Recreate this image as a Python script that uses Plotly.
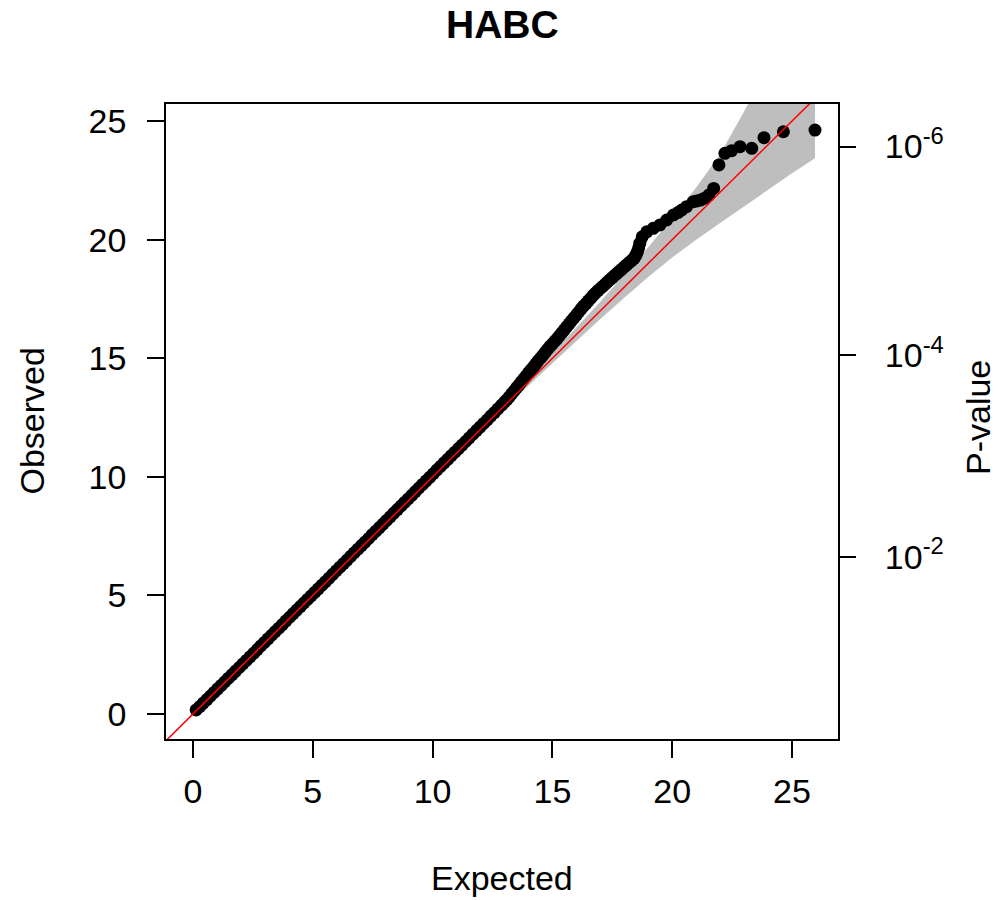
import plotly.graph_objects as go

# ---------------- data ----------------
# Expected vs observed chi-square statistics (QQ plot)
expected_low = [0.13, 0.28, 0.43, 0.58, 0.73, 0.88, 1.03, 1.18, 1.33, 1.48,
                1.63, 1.78, 1.93, 2.08, 2.23, 2.38, 2.53, 2.68, 2.83, 2.98,
                3.13, 3.28, 3.43, 3.58, 3.73, 3.88, 4.03, 4.18, 4.33, 4.48,
                4.63, 4.78, 4.93, 5.08, 5.23, 5.38, 5.53, 5.68, 5.83, 5.98,
                6.13, 6.28, 6.43, 6.58, 6.73, 6.88, 7.03, 7.18, 7.33, 7.48,
                7.63, 7.78, 7.93, 8.08, 8.23, 8.38, 8.53, 8.68, 8.83, 8.98,
                9.13, 9.28, 9.43, 9.58, 9.73, 9.88, 10.03, 10.18, 10.33, 10.48,
                10.63, 10.78, 10.93, 11.08, 11.23, 11.38, 11.53, 11.68, 11.83, 11.98,
                12.13, 12.28, 12.43, 12.58, 12.73, 12.88, 13.0]
observed_low = [0.17, 0.31, 0.46, 0.61, 0.76, 0.91, 1.06, 1.21, 1.36, 1.51,
                1.66, 1.81, 1.96, 2.11, 2.26, 2.41, 2.56, 2.71, 2.87, 3.02,
                3.17, 3.32, 3.47, 3.62, 3.77, 3.93, 4.08, 4.23, 4.38, 4.53,
                4.68, 4.83, 4.98, 5.13, 5.28, 5.43, 5.58, 5.73, 5.89, 6.04,
                6.19, 6.34, 6.49, 6.65, 6.8, 6.95, 7.1, 7.25, 7.4, 7.56,
                7.71, 7.86, 8.01, 8.16, 8.31, 8.47, 8.62, 8.77, 8.92, 9.07,
                9.22, 9.38, 9.53, 9.68, 9.83, 9.98, 10.13, 10.29, 10.44, 10.59,
                10.74, 10.89, 11.04, 11.19, 11.34, 11.49, 11.64, 11.8, 11.95, 12.1,
                12.25, 12.4, 12.56, 12.71, 12.87, 13.02, 13.15]
expected_mid = [13.1, 13.2, 13.3, 13.4, 13.5, 13.6, 13.7, 13.8, 13.9, 14.0, 14.1, 14.2,
                14.3, 14.4, 14.5, 14.6, 14.7, 14.8, 14.9, 15.0, 15.1, 15.2,
                15.3, 15.4, 15.5, 15.6, 15.7, 15.8, 15.9, 16.0, 16.1, 16.2, 16.3, 16.4,
                16.5, 16.6, 16.7, 16.8, 16.9, 17.0, 17.1, 17.2, 17.3, 17.4,
                17.5, 17.6, 17.7, 17.8, 17.9, 18.0, 18.1, 18.2, 18.3, 18.4, 18.45,
                18.5, 18.55, 18.6, 18.65]
observed_mid = [13.25, 13.37, 13.5, 13.62, 13.75, 13.87, 14.0, 14.12, 14.25, 14.38, 14.5, 14.62,
                14.75, 14.88, 15.0, 15.12, 15.25, 15.38, 15.5, 15.6, 15.72, 15.83,
                15.95, 16.08, 16.2, 16.33, 16.45, 16.58, 16.7, 16.82, 16.95, 17.08, 17.2, 17.3,
                17.42, 17.53, 17.65, 17.75, 17.85, 17.94, 18.03, 18.12, 18.22, 18.31,
                18.4, 18.49, 18.58, 18.67, 18.76, 18.85, 18.94, 19.03, 19.12, 19.2, 19.28,
                19.38, 19.5, 19.65, 19.85]
expected_tail = [18.75, 18.94, 19.21, 19.49, 19.77, 20.05, 20.25, 20.4, 20.6, 20.88,
                 21.03, 21.18, 21.35, 21.53, 21.73, 21.95, 22.2, 22.48, 22.83, 23.32,
                 23.83, 24.64, 25.96]
observed_tail = [20.12, 20.33, 20.48, 20.62, 20.83, 21.04, 21.15, 21.25, 21.39, 21.6,
                 21.63, 21.67, 21.75, 21.88, 22.16, 23.15, 23.64, 23.75, 23.92, 23.85,
                 24.30, 24.55, 24.62]

expected = expected_low + expected_mid + expected_tail
observed = observed_low + observed_mid + observed_tail

# 95% confidence band (grey)
band_x = [12.0, 13.0, 14.0, 15.0, 16.0, 17.0, 18.0, 19.0, 20.0, 21.0, 22.0, 23.0, 24.0, 25.0, 25.96]
band_lo = [11.9, 12.88, 13.84, 14.79, 15.74, 16.66, 17.55, 18.43, 19.25, 20.0, 20.7, 21.4, 22.1, 22.8, 23.43]
band_hi = [12.1, 13.12, 14.16, 15.22, 16.3, 17.38, 18.51, 19.68, 20.9, 22.2, 23.6, 25.4, 27.3, 29.5, 32.0]

x_ticks = [0, 5, 10, 15, 20, 25]
y_ticks = [0, 5, 10, 15, 20, 25]
pvalue_tick_pos = [6.635, 15.137, 23.928]
pvalue_tick_text = ["10<sup>-2</sup>", "10<sup>-4</sup>", "10<sup>-6</sup>"]

title_text = "HABC"
x_title = "Expected"
y_title = "Observed"
y2_title = "P-value"

X_RANGE = [-1.127, 26.92]
Y_RANGE = [-1.054, 25.72]

# ---------------- figure ----------------
FONT = "Liberation Sans, Arial, sans-serif"
TICKFONT = dict(family=FONT, size=34, color="black")

fig = go.Figure()

fig.add_trace(go.Scatter(
    x=band_x + band_x[::-1],
    y=band_lo + band_hi[::-1],
    fill="toself", fillcolor="#BEBEBE", mode="lines",
    line=dict(width=0, color="#BEBEBE"), hoverinfo="skip", showlegend=False))

fig.add_trace(go.Scatter(
    x=expected, y=observed, mode="markers",
    marker=dict(color="black", size=13, line=dict(width=0)),
    showlegend=False))

fig.add_trace(go.Scatter(
    x=X_RANGE, y=X_RANGE, mode="lines", yaxis="y2",
    line=dict(color="#FF0000", width=1.5), showlegend=False, hoverinfo="skip"))

axis_common = dict(showgrid=False, zeroline=False, ticks="outside", ticklen=17,
                   tickwidth=1.5, tickcolor="black", tickfont=TICKFONT)

fig.update_layout(
    width=999, height=900, autosize=False,
    margin=dict(l=166, r=161, t=104, b=161, pad=0),
    plot_bgcolor="white", paper_bgcolor="white",
    showlegend=False,
    xaxis=dict(range=X_RANGE, tickvals=x_ticks, showline=True, mirror=True,
               linecolor="black", linewidth=1.5, ticklabelstandoff=4, **axis_common),
    yaxis=dict(range=Y_RANGE, tickvals=y_ticks, showline=True, mirror=True,
               linecolor="black", linewidth=1.5, ticklabelstandoff=14, **axis_common),
    yaxis2=dict(range=Y_RANGE, overlaying="y", side="right", tickvals=pvalue_tick_pos,
                ticktext=pvalue_tick_text, showline=False, ticklabelstandoff=22,
                **axis_common),
    annotations=[
        dict(text="<b>" + title_text + "</b>", xref="paper", yref="paper",
             x=0.5, y=(739 - 24) / 635, xanchor="center", yanchor="middle",
             showarrow=False, font=dict(family="Liberation Sans, Arial", size=39, color="black")),
        dict(text=x_title, xref="paper", yref="paper", x=(502 - 166) / 672,
             y=(739 - 878) / 635, xanchor="center", yanchor="middle",
             showarrow=False, font=TICKFONT),
        dict(text=y_title, xref="paper", yref="paper", x=(31 - 166) / 672,
             y=0.5, xanchor="center", yanchor="middle", textangle=-90,
             showarrow=False, font=TICKFONT),
        dict(text=y2_title, xref="paper", yref="paper", x=(978 - 166) / 672,
             y=(739 - 418) / 635, xanchor="center", yanchor="middle", textangle=-90,
             showarrow=False, font=TICKFONT),
    ],
)

fig.write_html("out.html")
